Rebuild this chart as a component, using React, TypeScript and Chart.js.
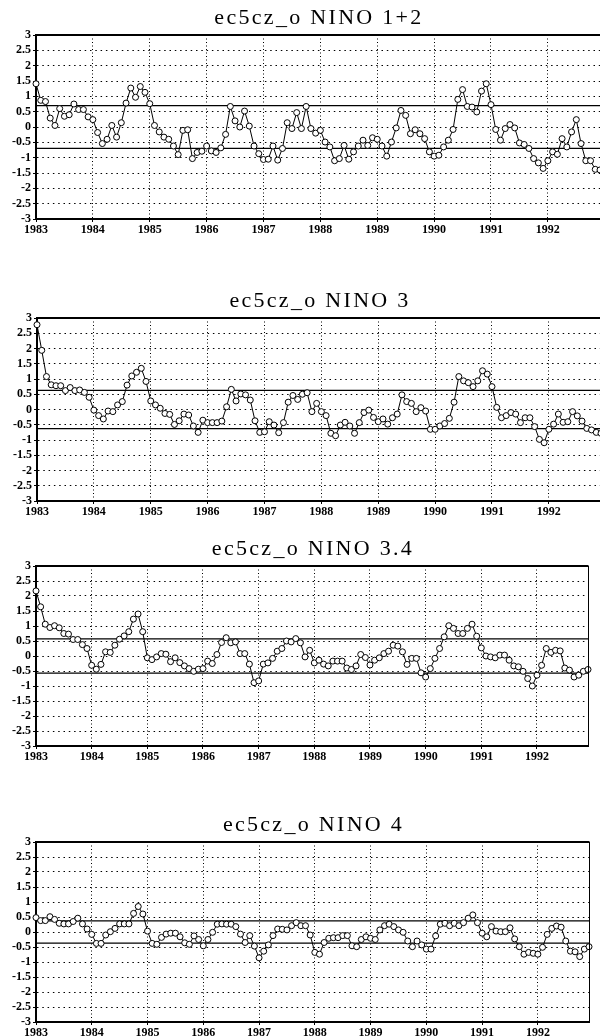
import React, { useEffect, useRef } from 'react';
import { Chart, registerables } from 'chart.js';

Chart.register(...registerables);

// ---------- data ----------
const yearLabels = ['1983', '1984', '1985', '1986', '1987', '1988', '1989', '1990', '1991', '1992'];
const yearTicks = [0, 12, 24, 36, 48, 60, 72, 84, 96, 108];
const monthCount = 120; // Jan 1983 .. Dec 1992
const yTickValues = [-3, -2.5, -2, -1.5, -1, -0.5, 0, 0.5, 1, 1.5, 2, 2.5, 3];
const yTickLabels = ['-3', '-2.5', '-2', '-1.5', '-1', '-0.5', '0', '0.5', '1', '1.5', '2', '2.5', '3'];

const titles = ['ec5cz_o NINO 1+2', 'ec5cz_o NINO 3', 'ec5cz_o NINO 3.4', 'ec5cz_o NINO 4'];
const sigmas = [0.7, 0.63, 0.57, 0.37];

const nino12 = [
  1.41, 0.87, 0.83, 0.29, 0.05, 0.6, 0.35, 0.4, 0.75, 0.57, 0.57, 0.33,
  0.24, -0.18, -0.54, -0.4, 0.05, -0.33, 0.14, 0.78, 1.27, 0.97, 1.32, 1.13,
  0.76, 0.05, -0.16, -0.33, -0.4, -0.62, -0.9, -0.11, -0.09, -1.03, -0.83, -0.79,
  -0.62, -0.78, -0.83, -0.68, -0.24, 0.67, 0.2, 0.0, 0.52, 0.03, -0.62, -0.87,
  -1.06, -1.05, -0.62, -1.08, -0.7, 0.14, -0.05, 0.47, -0.05, 0.67, -0.05, -0.2,
  -0.11, -0.49, -0.65, -1.1, -1.03, -0.6, -1.05, -0.81, -0.62, -0.43, -0.6, -0.35,
  -0.4, -0.62, -0.95, -0.49, -0.03, 0.54, 0.38, -0.22, -0.09, -0.22, -0.38, -0.81,
  -0.95, -0.92, -0.65, -0.43, -0.08, 0.9, 1.22, 0.67, 0.65, 0.49, 1.17, 1.41,
  0.73, -0.08, -0.43, -0.05, 0.08, -0.03, -0.52, -0.57, -0.7, -1.03, -1.17, -1.35,
  -1.1, -0.81, -0.89, -0.38, -0.65, -0.16, 0.24, -0.54, -1.1, -1.1, -1.38, -1.4,
];

const nino3 = [
  2.78, 1.94, 1.08, 0.81, 0.78, 0.78, 0.62, 0.72, 0.62, 0.64, 0.56, 0.4,
  -0.02, -0.2, -0.31, -0.05, -0.07, 0.15, 0.26, 0.8, 1.1, 1.22, 1.35, 0.92,
  0.28, 0.15, 0.04, -0.13, -0.16, -0.49, -0.37, -0.15, -0.18, -0.54, -0.75, -0.35,
  -0.43, -0.43, -0.43, -0.38, 0.09, 0.66, 0.28, 0.51, 0.48, 0.31, -0.37, -0.75,
  -0.73, -0.4, -0.51, -0.76, -0.43, 0.24, 0.46, 0.33, 0.5, 0.55, -0.07, 0.2,
  -0.07, -0.2, -0.78, -0.86, -0.51, -0.42, -0.54, -0.78, -0.43, -0.1, -0.02, -0.26,
  -0.4, -0.31, -0.48, -0.27, -0.15, 0.48, 0.26, 0.2, -0.07, 0.06, -0.05, -0.65,
  -0.65, -0.54, -0.46, -0.29, 0.24, 1.08, 0.94, 0.88, 0.75, 0.94, 1.27, 1.16,
  0.75, 0.07, -0.27, -0.2, -0.1, -0.15, -0.43, -0.27, -0.27, -0.56, -0.98, -1.09,
  -0.65, -0.48, -0.15, -0.42, -0.4, -0.07, -0.21, -0.38, -0.62, -0.67, -0.75, -0.78,
];

const nino34 = [
  2.17, 1.64, 1.06, 0.95, 1.01, 0.94, 0.75, 0.73, 0.55, 0.55, 0.38, 0.25,
  -0.31, -0.44, -0.28, 0.14, 0.12, 0.36, 0.56, 0.67, 0.81, 1.23, 1.4, 0.81,
  -0.06, -0.12, -0.03, 0.08, 0.06, -0.19, -0.06, -0.22, -0.33, -0.42, -0.51, -0.44,
  -0.42, -0.17, -0.25, 0.05, 0.45, 0.61, 0.44, 0.47, 0.08, 0.08, -0.27, -0.89,
  -0.83, -0.27, -0.23, -0.08, 0.16, 0.25, 0.5, 0.47, 0.58, 0.44, -0.03, 0.19,
  -0.23, -0.14, -0.27, -0.33, -0.17, -0.17, -0.17, -0.4, -0.45, -0.33, 0.05, -0.05,
  -0.3, -0.14, -0.06, 0.08, 0.16, 0.36, 0.33, 0.14, -0.28, -0.08, -0.08, -0.56,
  -0.7, -0.42, -0.08, 0.25, 0.64, 1.01, 0.92, 0.75, 0.75, 0.92, 1.06, 0.66,
  0.27, 0.0, -0.03, -0.06, 0.03, 0.03, -0.14, -0.33, -0.36, -0.51, -0.75, -1.0,
  -0.64, -0.31, 0.25, 0.12, 0.19, 0.17, -0.4, -0.47, -0.7, -0.64, -0.51, -0.45,
];

const nino4 = [
  0.48, 0.38, 0.38, 0.51, 0.42, 0.29, 0.27, 0.27, 0.35, 0.46, 0.27, 0.1,
  -0.08, -0.38, -0.38, -0.1, 0.01, 0.12, 0.27, 0.27, 0.27, 0.62, 0.85, 0.6,
  0.03, -0.38, -0.41, -0.18, -0.07, -0.04, -0.04, -0.16, -0.36, -0.41, -0.13, -0.25,
  -0.46, -0.25, -0.01, 0.26, 0.27, 0.26, 0.26, 0.18, -0.07, -0.35, -0.12, -0.47,
  -0.86, -0.64, -0.43, -0.12, 0.1, 0.09, 0.07, 0.21, 0.31, 0.21, 0.21, -0.1,
  -0.68, -0.74, -0.35, -0.21, -0.19, -0.19, -0.12, -0.12, -0.46, -0.49, -0.25, -0.16,
  -0.21, -0.25, 0.07, 0.21, 0.26, 0.18, 0.07, -0.01, -0.3, -0.49, -0.3, -0.43,
  -0.57, -0.57, -0.13, 0.26, 0.29, 0.21, 0.29, 0.21, 0.31, 0.46, 0.57, 0.31,
  -0.04, -0.16, 0.18, 0.03, 0.01, 0.01, 0.14, -0.23, -0.49, -0.74, -0.68, -0.71,
  -0.74, -0.51, -0.08, 0.12, 0.2, 0.16, -0.3, -0.64, -0.66, -0.82, -0.57, -0.49,
];

const seriesList = [nino12, nino3, nino34, nino4];

// ---------- layout (pixels) ----------
type Geo = { top: number; width: number; height: number; padTop: number; padLeft: number; padRight: number };
const geometry: Geo[] = [
  { top: 0, width: 604, height: 239, padTop: 35, padLeft: 0, padRight: 3 },
  { top: 284, width: 605, height: 237, padTop: 34, padLeft: 1, padRight: 3 },
  { top: 532, width: 600, height: 234, padTop: 34, padLeft: 0, padRight: 12 },
  { top: 808, width: 600, height: 234, padTop: 34, padLeft: 0, padRight: 11 },
];

const tickFont = { family: '"Liberation Serif", serif', weight: 'bold' as const, size: 12 };

function Panel({ index }: { index: number }) {
  const ref = useRef<HTMLCanvasElement | null>(null);
  const geo = geometry[index];

  useEffect(() => {
    const canvas = ref.current;
    if (!canvas) return;
    const values = seriesList[index];
    const sigma = sigmas[index];
    const title = titles[index];
    const lastX = monthCount - 1;

    const framePlugin = {
      id: 'frameAndTitle',
      afterDatasetsDraw(chart: any) {
        const { ctx, chartArea } = chart;
        const { left, right, top } = chartArea;
        ctx.save();
        ctx.strokeStyle = '#000';
        ctx.setLineDash([]);
        ctx.lineWidth = 2;
        ctx.beginPath();
        ctx.moveTo(left - 1, top);
        ctx.lineTo(right + 0.5, top);
        ctx.stroke();
        ctx.lineWidth = 1;
        ctx.beginPath();
        ctx.moveTo(right + 0.5, top);
        ctx.lineTo(right + 0.5, chartArea.bottom);
        ctx.stroke();
        ctx.restore();
      },
      afterDraw(chart: any) {
        const { ctx, chartArea } = chart;
        ctx.save();
        ctx.fillStyle = '#000';
        ctx.font = '22px "Liberation Serif", serif';
        try { (ctx as any).letterSpacing = '2.3px'; } catch (e) { /* ignore */ }
        ctx.textAlign = 'center';
        ctx.textBaseline = 'middle';
        ctx.fillText(title, (chartArea.left + chartArea.right) / 2 + 1, chartArea.top - 17);
        ctx.restore();
      },
    };

    const chart = new Chart(canvas, {
      type: 'line',
      data: {
        datasets: [
          {
            data: values.map((v, i) => ({ x: i, y: v })),
            borderColor: '#000',
            borderWidth: 1,
            pointRadius: 3,
            pointHoverRadius: 3,
            pointBackgroundColor: '#fff',
            pointBorderColor: '#000',
            pointBorderWidth: 1,
            tension: 0,
            order: 0,
            clip: 5,
          } as any,
          {
            data: [{ x: 0, y: sigma }, { x: lastX, y: sigma }],
            borderColor: '#000',
            borderWidth: 1.3,
            pointRadius: 0,
            order: 1,
          },
          {
            data: [{ x: 0, y: -sigma }, { x: lastX, y: -sigma }],
            borderColor: '#000',
            borderWidth: 1.3,
            pointRadius: 0,
            order: 1,
          },
        ],
      },
      options: {
        animation: false,
        responsive: false,
        devicePixelRatio: 1,
        events: [],
        layout: { padding: { top: geo.padTop, left: geo.padLeft, right: geo.padRight, bottom: 0 } },
        plugins: { legend: { display: false }, tooltip: { enabled: false }, title: { display: false } },
        scales: {
          x: {
            type: 'linear',
            min: 0,
            max: lastX,
            afterBuildTicks: (s: any) => { s.ticks = yearTicks.map((v) => ({ value: v })); },
            afterFit: (s: any) => { s.height = 20; },
            ticks: {
              callback: (_v: any, i: number) => yearLabels[i],
              font: tickFont,
              color: '#000',
              padding: 1,
              maxRotation: 0,
              autoSkip: false,
            },
            grid: {
              color: (c: any) => (c.tick && c.tick.value === 0 ? 'rgba(0,0,0,0)' : '#000'),
              lineWidth: 1,
              tickLength: 3,
              tickColor: '#000',
              tickWidth: 1,
            },
            border: { display: true, color: '#000', width: 2, dash: [1, 2.5] },
          },
          y: {
            type: 'linear',
            min: -3,
            max: 3,
            afterBuildTicks: (s: any) => { s.ticks = yTickValues.map((v) => ({ value: v })); },
            afterFit: (s: any) => { s.width = 36; },
            ticks: {
              callback: (_v: any, i: number) => yTickLabels[i],
              font: tickFont,
              color: '#000',
              padding: 2,
              autoSkip: false,
            },
            grid: {
              color: (c: any) => (c.tick && Math.abs(c.tick.value) === 3 ? 'rgba(0,0,0,0)' : '#000'),
              lineWidth: 1,
              tickLength: 3,
              tickColor: '#000',
              tickWidth: 1,
            },
            border: { display: true, color: '#000', width: 2, dash: [1.5, 3.8] },
          },
        },
      } as any,
      plugins: [framePlugin],
    });

    return () => chart.destroy();
  }, [index]);

  return (
    <canvas
      ref={ref}
      width={geo.width}
      height={geo.height}
      style={{ position: 'absolute', left: 0, top: geo.top, width: geo.width, height: geo.height }}
    />
  );
}

export default function App() {
  return (
    <div
      style={{
        position: 'absolute',
        left: 0,
        top: 0,
        width: 600,
        height: 1036,
        overflow: 'hidden',
        background: '#fff',
      }}
    >
      {titles.map((_, i) => (
        <Panel key={i} index={i} />
      ))}
    </div>
  );
}
